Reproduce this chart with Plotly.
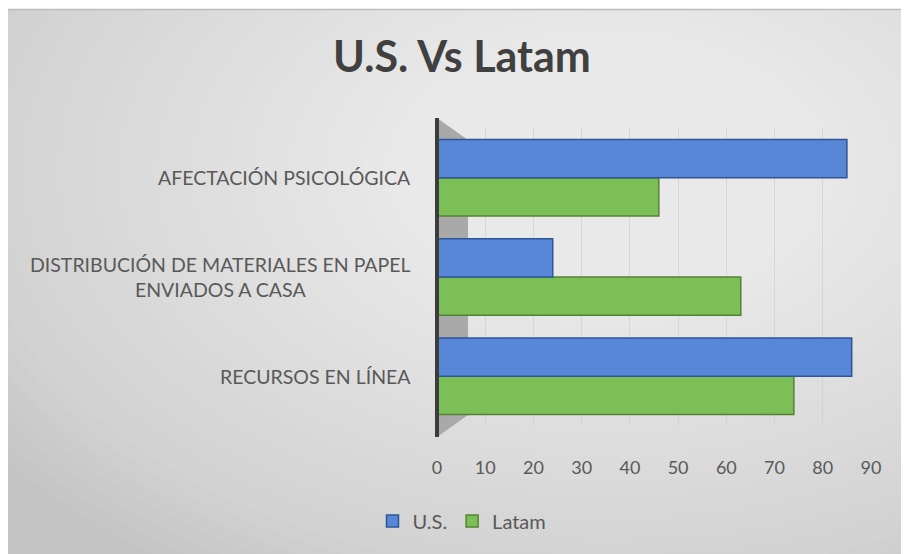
import plotly.graph_objects as go

categories = ["RECURSOS EN LÍNEA",
              "DISTRIBUCIÓN DE MATERIALES EN PAPEL<br>ENVIADOS A CASA",
              "AFECTACIÓN PSICOLÓGICA"]
us_values = [86, 24, 85]
latam_values = [74, 63, 46]
x_ticks = [0, 10, 20, 30, 40, 50, 60, 70, 80, 90]

OFF = 8  # page body margin
W, H = 901, 546
# plot area in screen pixels
SX0, SX1, SY0, SY1 = 437, 871, 128, 426
ML, MR = SX0 - OFF, W - (SX1 - OFF)
MT, MB = SY0 - OFF, H - (SY1 - OFF)
PW, PH = SX1 - SX0, SY1 - SY0


def px(xs):
    return (xs - SX0) / PW


def py(ys):
    return (SY1 - ys) / PH


fig = go.Figure()
fig.add_trace(go.Bar(
    y=categories, x=latam_values, orientation="h", name="Latam",
    marker=dict(color="#7dbf57", line=dict(color="#548235", width=1.5)),
    legendrank=2,
))
fig.add_trace(go.Bar(
    y=categories, x=us_values, orientation="h", name="U.S.",
    marker=dict(color="#5887d8", line=dict(color="#2f5597", width=1.5)),
    legendrank=1,
))

shapes = []
shapes.append(dict(type="rect", xref="paper", yref="paper",
                   x0=px(7), x1=px(915), y0=py(560), y1=py(9),
                   fillcolor="#c4c4c4", line=dict(width=0), layer="below"))
cx, cy = 610, 170
n = 40
for i in range(n):
    f = 1 - i / n
    rx, ry = 760 * f, 480 * f
    shapes.append(dict(type="circle", xref="paper", yref="paper",
                       x0=px(cx - rx), x1=px(cx + rx), y0=py(cy + ry), y1=py(cy - ry),
                       fillcolor="white", opacity=0.045, line=dict(width=0), layer="below"))
shapes.append(dict(type="line", xref="paper", yref="paper",
                   x0=px(7), x1=px(915), y0=py(9.5), y1=py(9.5),
                   line=dict(color="#bdbdbd", width=1.5), layer="below"))
wall = "M {} {} L {} {} L {} {} L {} {} Z".format(
    px(437), py(118), px(468), py(140), px(468), py(415), px(437), py(437))
shapes.append(dict(type="path", xref="paper", yref="paper", path=wall,
                   fillcolor="#a9a9a9", line=dict(width=0), layer="below"))
shapes.append(dict(type="line", xref="paper", yref="paper",
                   x0=px(437), x1=px(437), y0=py(118), y1=py(437),
                   line=dict(color="#3c3c3c", width=4), layer="above"))

annotations = []
for c in categories:
    annotations.append(dict(xref="paper", yref="y", x=px(413), y=c,
                            xanchor="right", yanchor="middle", align="center",
                            text=c, showarrow=False,
                            font=dict(family="Lato", size=19.5, color="#595959")))

fig.update_layout(
    width=W, height=H,
    margin=dict(l=ML, r=MR, t=MT, b=MB, pad=0),
    paper_bgcolor="white",
    plot_bgcolor="rgba(0,0,0,0)",
    barmode="group", bargap=0.23, bargroupgap=0.0,
    title=dict(text="<b>U.S. Vs Latam</b>", x=(462 - OFF) / W, xref="container",
               xanchor="center", y=1 - (57 - OFF) / H, yref="container", yanchor="middle",
               font=dict(family="Lato", size=43, color="#404040")),
    xaxis=dict(range=[0, 90], tickvals=x_ticks, ticktext=[str(v) for v in x_ticks],
               showgrid=True, gridcolor="rgba(200,200,200,0.55)", gridwidth=1,
               zeroline=False, showline=False, ticks="", ticklabelstandoff=29,
               tickfont=dict(family="Lato", size=18, color="#595959")),
    yaxis=dict(showticklabels=False, showgrid=False, zeroline=False,
               showline=False, range=[-0.5, 2.5]),
    legend=dict(orientation="h", x=px(462), xanchor="center", y=py(521),
                yanchor="middle", font=dict(family="Lato", size=20, color="#595959"),
                bgcolor="rgba(0,0,0,0)", itemwidth=30),
    showlegend=True,
    shapes=shapes,
    annotations=annotations,
)

fig.write_html("out.html")
